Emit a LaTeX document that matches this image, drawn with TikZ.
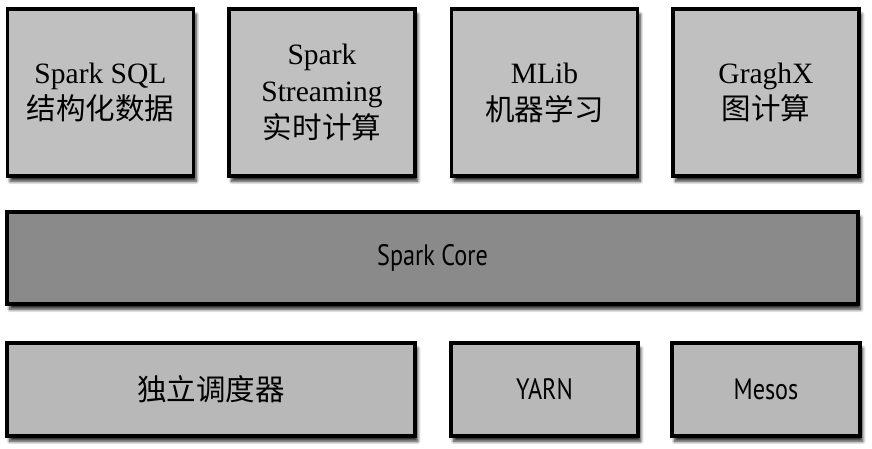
\documentclass[tikz,border=0pt]{standalone}
\usepackage{fontspec}
\setmainfont{Liberation Serif}
\newfontfamily\cjk{Noto Sans CJK SC}
\newfontfamily\condsans[FakeStretch=0.82]{PT Sans}
\usepackage{tikz}
\usetikzlibrary{shadows.blur}

\definecolor{modgray}{RGB}{192,192,192}
\definecolor{coregray}{RGB}{138,138,138}
\definecolor{mgrgray}{RGB}{184,184,184}

\begin{document}
\begin{tikzpicture}[
  x=0.02cm, y=-0.02cm,
  every node/.style={draw=black, line width=2pt, inner sep=0pt, outer sep=0pt,
    blur shadow={shadow xshift=1.5pt, shadow yshift=-3pt, shadow blur steps=6, shadow opacity=85}},
  module/.style={fill=modgray, minimum width=3.72cm, minimum height=3.34cm,
    align=center, font=\fontsize{16.8}{21}\selectfont},
  core/.style={fill=coregray, minimum width=17.02cm, minimum height=1.84cm,
    font=\fontsize{16.8}{21}\selectfont\condsans},
  manager/.style={fill=mgrgray, minimum height=1.86cm,
    font=\fontsize{16.8}{21}\selectfont\condsans}
]
  \useasboundingbox (0,0) rectangle (872,449);
  % libraries on top
  \node[module] (sql)       at (100.5,92.5) {Spark SQL\\{\cjk 结构化数据}};
  \node[module] (streaming) at (322,92.5)   {Spark\\Streaming\\{\cjk 实时计算}};
  \node[module] (mlib)      at (544.5,92.5) {MLib\\{\cjk 机器学习}};
  \node[module] (graphx)    at (766,92.5)   {GraghX\\{\cjk 图计算}};
  % core
  \node[core] (core) at (432.5,258) {Spark Core};
  % cluster managers
  \node[manager, minimum width=8.16cm] (standalone) at (211,389.5) {\cjk 独立调度器};
  \node[manager, minimum width=3.74cm] (yarn)  at (544.5,389.5) {YARN};
  \node[manager, minimum width=3.76cm] (mesos) at (766,389.5)   {Mesos};
\end{tikzpicture}
\end{document}
